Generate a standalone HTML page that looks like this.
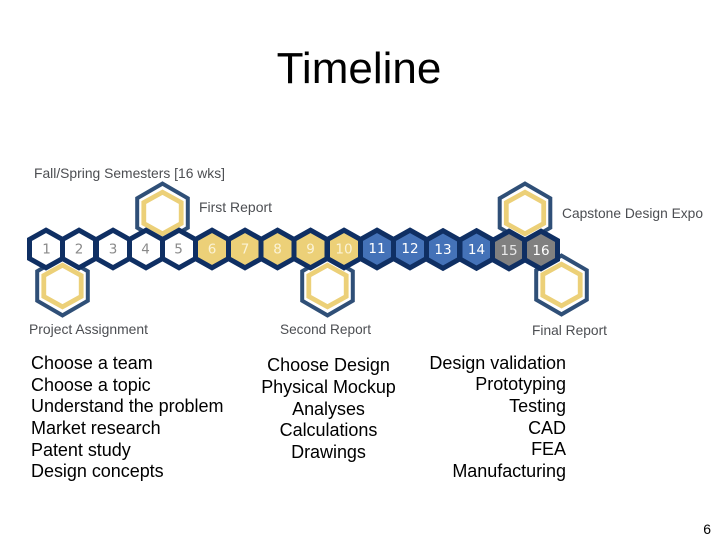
<!DOCTYPE html>
<html><head><meta charset="utf-8"><style>
html,body{margin:0;padding:0;background:#fff}
svg{display:block}
.t{font-family:"Liberation Sans",sans-serif;fill:#000;font-size:18px;letter-spacing:-0.03px}
.c{font-family:"Liberation Sans",sans-serif;font-size:14px;fill:#4c4e52}
.n{font-family:"DejaVu Sans","Liberation Sans",sans-serif;font-size:13.5px;text-anchor:middle}
</style></head><body>
<svg width="720" height="540" viewBox="0 0 720 540" xmlns="http://www.w3.org/2000/svg">
<defs>
<polygon id="big" points="0,-29.4 25.3,-14.7 25.3,14.7 0,29.4 -25.3,14.7 -25.3,-14.7" fill="#fff" stroke="#2f4f77" stroke-width="4"/>
<polygon id="gold" points="0,-20.800 18.7,-10.500 18.7,10.500 0,20.800 -18.7,10.500 -18.7,-10.500" fill="#fff" stroke="#ecd078" stroke-width="4.800"/>
<polygon id="h" points="0,-18.8 16.5,-9.5 16.5,9.5 0,18.8 -16.5,9.5 -16.5,-9.5" stroke="#0f2f63" stroke-width="5"/>
</defs>
<text x="359" y="83" text-anchor="middle" style="font-family:'Liberation Sans',sans-serif;font-size:44px">Timeline</text>

<use href="#big" x="162.5" y="213"/><use href="#gold" x="162.500" y="213"/>
<use href="#big" x="525" y="213"/><use href="#gold" x="525" y="213"/>
<use href="#big" x="62.5" y="286"/><use href="#gold" x="62.500" y="286"/>
<use href="#big" x="327.5" y="286"/><use href="#gold" x="327.500" y="286"/>
<use href="#big" x="561.5" y="285"/><use href="#gold" x="561.500" y="285"/>

<g fill="#fff"><use href="#h" x="46" y="249"/><use href="#h" x="79" y="249"/><use href="#h" x="113" y="249"/><use href="#h" x="146" y="249"/><use href="#h" x="179" y="249"/></g>
<g fill="#ecd078"><use href="#h" x="212" y="249"/><use href="#h" x="245" y="249"/><use href="#h" x="277.500" y="249"/><use href="#h" x="310.500" y="249"/><use href="#h" x="344" y="249"/></g>
<g fill="#4472b8"><use href="#h" x="377" y="249"/><use href="#h" x="410" y="249"/><use href="#h" x="443" y="249.500"/><use href="#h" x="476.5" y="249.500"/></g>
<g fill="#808080"><use href="#h" x="509" y="250"/><use href="#h" x="541" y="250"/></g>

<text class="n" fill="#8a8a8a" x="46.5" y="253.500">1</text><text class="n" fill="#8a8a8a" x="79" y="253.500">2</text><text class="n" fill="#8a8a8a" x="113" y="253.500">3</text><text class="n" fill="#8a8a8a" x="145.500" y="253.500">4</text><text class="n" fill="#8a8a8a" x="178.500" y="253.500">5</text>
<text class="n" fill="#fbf3d6" x="212" y="253.500">6</text><text class="n" fill="#fbf3d6" x="245" y="253.500">7</text><text class="n" fill="#fbf3d6" x="277.500" y="253.500">8</text><text class="n" fill="#fbf3d6" x="310.500" y="253.500">9</text><text class="n" fill="#fbf3d6" x="344" y="253.500">10</text>
<text class="n" fill="#fff" x="377" y="253">11</text><text class="n" fill="#fff" x="410" y="253">12</text><text class="n" fill="#fff" x="443" y="254">13</text><text class="n" fill="#fff" x="476.5" y="254">14</text>
<text class="n" fill="#e8e8e8" x="509" y="255">15</text><text class="n" fill="#fff" x="541" y="255">16</text>

<text class="c" x="34" y="178" textLength="191" lengthAdjust="spacingAndGlyphs">Fall/Spring Semesters [16 wks]</text>
<text class="c" x="199" y="212" textLength="73" lengthAdjust="spacingAndGlyphs">First Report</text>
<text class="c" x="29" y="334" textLength="119" lengthAdjust="spacingAndGlyphs">Project Assignment</text>
<text class="c" x="280" y="334" textLength="91" lengthAdjust="spacingAndGlyphs">Second Report</text>
<text class="c" x="562" y="218" textLength="141" lengthAdjust="spacingAndGlyphs">Capstone Design Expo</text>
<text class="c" x="532" y="335" textLength="75" lengthAdjust="spacingAndGlyphs">Final Report</text>

<g class="t">
<text x="31" y="369">Choose a team</text>
<text x="31" y="391">Choose a topic</text>
<text x="31" y="412">Understand the problem</text>
<text x="31" y="434">Market research</text>
<text x="31" y="456">Patent study</text>
<text x="31" y="477">Design concepts</text>
</g>
<g class="t" text-anchor="middle">
<text x="328.500" y="371">Choose Design</text>
<text x="328.500" y="393">Physical Mockup</text>
<text x="328.500" y="415">Analyses</text>
<text x="328.500" y="436">Calculations</text>
<text x="328.500" y="458">Drawings</text>
</g>
<g class="t" text-anchor="end">
<text x="566" y="369">Design validation</text>
<text x="566" y="390">Prototyping</text>
<text x="566" y="412">Testing</text>
<text x="566" y="434">CAD</text>
<text x="566" y="455">FEA</text>
<text x="566" y="477">Manufacturing</text>
</g>
<text x="711" y="534" text-anchor="end" style="font-family:'Liberation Sans',sans-serif;font-size:14px">6</text>
</svg>
</body></html>
